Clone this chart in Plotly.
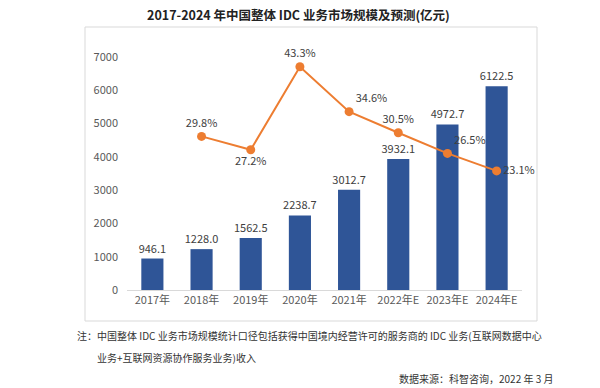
import plotly.graph_objects as go

categories = ["2017年", "2018年", "2019年", "2020年", "2021年", "2022年E", "2023年E", "2024年E"]
market_size = [946.1, 1228.0, 1562.5, 2238.7, 3012.7, 3932.1, 4972.7, 6122.5]
growth_rate = [None, 29.8, 27.2, 43.3, 34.6, 30.5, 26.5, 23.1]
y_ticks = [0, 1000, 2000, 3000, 4000, 5000, 6000, 7000]

FONT = "Noto Sans CJK SC"
W, H = 600, 388
L, R, T, B = 127, 78, 57, 98
PW, PH = W - L - R, H - T - B

def px(x):
    return (x - L) / PW

def py(y):
    return (H - B - y) / PH

label_pos = ["top center", "top center", "bottom center", "top center",
             "top right", "top center", "top right", "middle right"]

fig = go.Figure()
fig.add_trace(go.Bar(
    x=categories, y=market_size,
    marker=dict(color="#2F5597", line=dict(width=0)),
    text=[f"{v:.1f}" for v in market_size],
    textposition="outside", cliponaxis=False, constraintext="none",
    textfont=dict(family=FONT, size=11, color="#404040"),
    hoverinfo="skip",
))
fig.add_trace(go.Scatter(
    x=categories, y=growth_rate, yaxis="y2",
    mode="lines+markers+text",
    line=dict(color="#ED7D31", width=2),
    marker=dict(color="#ED7D31", size=9),
    text=[("" if v is None else f"{v:.1f}%") for v in growth_rate],
    textposition=label_pos, cliponaxis=False,
    textfont=dict(family=FONT, size=11, color="#404040"),
    hoverinfo="skip",
))

fig.update_layout(
    width=W, height=H,
    margin=dict(l=L, r=R, t=T, b=B),
    paper_bgcolor="white", plot_bgcolor="white",
    showlegend=False,
    bargap=0.55,
    font=dict(family=FONT, color="#595959"),
    xaxis=dict(
        showgrid=False, showline=True, linecolor="#d9d9d9", linewidth=1,
        ticks="", tickfont=dict(family=FONT, size=11, color="#595959"),
    ),
    yaxis=dict(
        range=[0, 7000], tickvals=y_ticks, showgrid=False, zeroline=False,
        showline=False, ticks="", tickfont=dict(family=FONT, size=11, color="#595959"),
        ticklabelstandoff=8,
    ),
    yaxis2=dict(range=[0, 45.2], overlaying="y", visible=False),
)

# chart frame
fig.add_shape(type="rect", xref="paper", yref="paper",
              x0=px(85), x1=px(537), y0=py(321), y1=py(27),
              line=dict(color="#d9d9d9", width=1), fillcolor="rgba(0,0,0,0)", layer="below")

fig.add_annotation(text="<b>2017-2024 年中国整体 IDC 业务市场规模及预测(亿元)</b>",
                   xref="paper", yref="paper", x=px(298), y=py(15),
                   xanchor="center", yanchor="middle", showarrow=False,
                   font=dict(family=FONT, size=12.5, color="#222222"))
fig.add_annotation(text="注：中国整体 IDC 业务市场规模统计口径包括获得中国境内经营许可的服务商的 IDC 业务(互联网数据中心",
                   xref="paper", yref="paper", x=px(75), y=py(335),
                   xanchor="left", yanchor="middle", showarrow=False,
                   font=dict(family=FONT, size=10, color="#333333"))
fig.add_annotation(text="业务+互联网资源协作服务业务)收入",
                   xref="paper", yref="paper", x=px(95), y=py(357),
                   xanchor="left", yanchor="middle", showarrow=False,
                   font=dict(family=FONT, size=10, color="#333333"))
fig.add_annotation(text="数据来源：科智咨询，2022 年 3 月",
                   xref="paper", yref="paper", x=px(555), y=py(378),
                   xanchor="right", yanchor="middle", showarrow=False,
                   font=dict(family=FONT, size=10, color="#333333"))

fig.write_html("out.html")
